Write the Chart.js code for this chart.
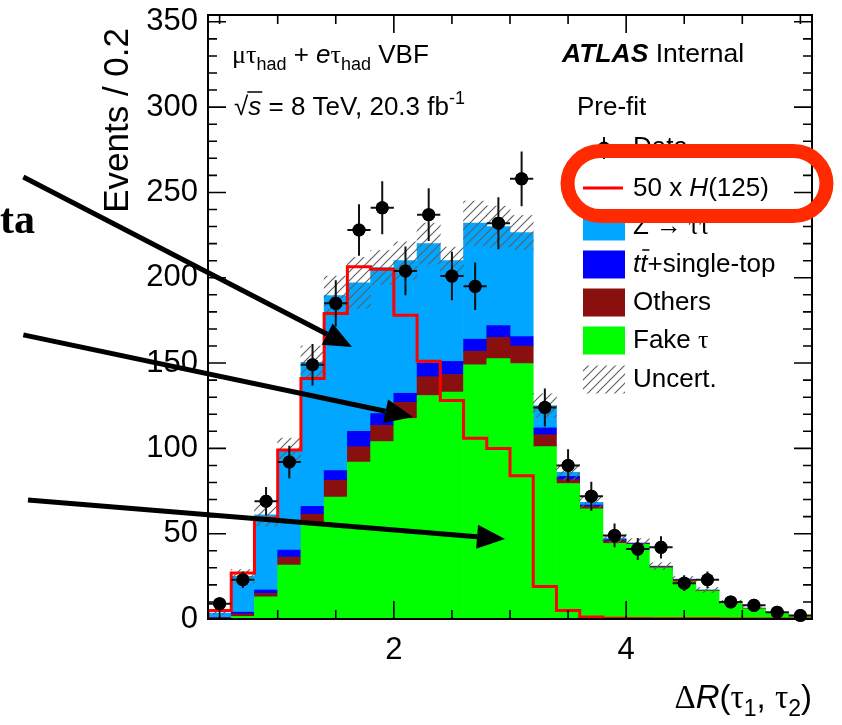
<!DOCTYPE html>
<html>
<head>
<meta charset="utf-8">
<title>Delta R(tau1, tau2) VBF</title>
<script src="https://cdn.jsdelivr.net/npm/chart.js@4.4.1/dist/chart.umd.min.js"></script>
<style>
  html, body { margin: 0; padding: 0; background: #fff; }
  canvas { display: block; }
</style>
</head>
<body>
<canvas id="drChart" width="842" height="725"></canvas>
<script>
const SANS = '"Liberation Sans", Arial, Helvetica, sans-serif';
const SERIF = '"Liberation Serif", "Times New Roman", serif';

// Delta R(tau1, tau2) binning: 26 bins of 0.2 from 0.4 to 5.6
const binCenters = [0.5, 0.7, 0.9, 1.1, 1.3, 1.5, 1.7, 1.9, 2.1, 2.3, 2.5, 2.7, 2.9,
                    3.1, 3.3, 3.5, 3.7, 3.9, 4.1, 4.3, 4.5, 4.7, 4.9, 5.1, 5.3, 5.5];
const binWidth = 0.2;
const xTickLabels = [2, 4];
const yTickLabels = [0, 50, 100, 150, 200, 250, 300, 350];

// observed events
const dataCounts = [9, 23, 69, 92, 149, 185, 228, 241, 204, 237, 201, 195, 232,
                    258, 124, 90, 72, 49, 41, 42, 21, 23, 10, 8, 4, 2];

// background stack, bottom to top
const fakeTau = [0.3, 1.5, 13, 31.6, 55, 71.5, 92, 104, 117.5, 131, 133, 149, 152.6,
                 149.7, 101, 79.4, 64.5, 44.3, 43.8, 30, 21.8, 16.4, 9.5, 6, 3.5, 1.7];
const others = [0.4, 1.5, 2, 4.7, 6.4, 9.8, 9, 9.5, 9.5, 11, 10.3, 8, 12.4,
                10.3, 7, 2.3, 1.5, 1.5, 0.4, 0.6, 1.2, 0.4, 0.3, 0.2, 0.1, 0.05];
const ttbar = [0.2, 1, 2, 4.1, 4.6, 5.7, 9, 6.9, 5.3, 8, 7.7, 7, 7,
               5.5, 4, 1.9, 0.8, 0.7, 0.2, 0.2, 0.2, 0.1, 0.1, 0.1, 0.05, 0.03];
const zTauTau = [2.6, 21, 44, 58.6, 84.5, 102.5, 87, 85.6, 77.7, 70, 59, 68, 58,
                 61, 13, 2.4, 1.6, 0.9, 0.2, 0.2, 0.2, 0.1, 0.1, 0.1, 0.05, 0.02];

// signal scaled by 50
const higgsX50 = [5, 27, 59, 99, 141, 179, 206.5, 205, 178, 151, 128, 106, 100,
                  84, 19, 5, 1.2, 0.5, 0.3, 0.2, 0.15, 0.1, 0.05, 0.05, 0.02, 0.02];

// systematic band half-width around the total background
const systUnc = [0.8, 4, 6.5, 7, 9.5, 11.5, 15, 10, 11, 12, 8, 13, 12,
                 10, 7, 4.5, 3.5, 3, 2.5, 2, 1.5, 1.5, 1, 0.8, 0.5, 0.3];

const colors = {
  z: '#00a6ff',
  tt: '#0000ff',
  others: '#8a1010',
  fake: '#00ff00',
  higgs: '#ff0000',
  box: '#ff2a00'
};

const canvas = document.getElementById('drChart');
const ctx0 = canvas.getContext('2d');

// diagonal hatch used for the uncertainty band
function makeHatch(size, color, lw) {
  const tile = document.createElement('canvas');
  tile.width = size; tile.height = size;
  const g = tile.getContext('2d');
  g.strokeStyle = color;
  g.lineWidth = lw;
  g.beginPath();
  g.moveTo(-1, size + 1); g.lineTo(size + 1, -1);
  g.moveTo(-1, 1); g.lineTo(1, -1);
  g.moveTo(size - 1, size + 1); g.lineTo(size + 1, size - 1);
  g.stroke();
  return ctx0.createPattern(tile, 'repeat');
}
const hatch = makeHatch(9, '#606060', 1.15);

const toPoints = vals => binCenters.map((x, i) => ({ x: x, y: vals[i] }));
const mcTotal = binCenters.map((_, i) => fakeTau[i] + others[i] + ttbar[i] + zTauTau[i]);

// histogram outline for the signal: left edges, closed to zero at both ends
const lowEdge = binCenters[0] - binWidth / 2;
const highEdge = binCenters[binCenters.length - 1] + binWidth / 2;
const higgsStep = [{ x: lowEdge, y: 0 }]
  .concat(binCenters.map((c, i) => ({ x: c - binWidth / 2, y: higgsX50[i] })))
  .concat([{ x: highEdge, y: higgsX50[higgsX50.length - 1] }, { x: highEdge, y: 0 }]);

const barCommon = { barPercentage: 1, categoryPercentage: 1, grouped: false, borderWidth: 0 };

function drawRich(ctx, x, y, runs, align) {
  let w = 0;
  runs.forEach(r => { ctx.font = r[1]; w += ctx.measureText(r[0]).width; });
  let cx = align === 'right' ? x - w : x;
  runs.forEach(r => {
    ctx.font = r[1];
    ctx.fillText(r[0], cx, y + (r[2] || 0));
    cx += ctx.measureText(r[0]).width;
  });
  return w;
}

function arrow(ctx, x0, y0, x1, y1) {
  const ang = Math.atan2(y1 - y0, x1 - x0);
  const len = 28, half = 12;
  const bx = x1 - len * Math.cos(ang), by = y1 - len * Math.sin(ang);
  ctx.beginPath();
  ctx.moveTo(x0, y0);
  ctx.lineTo(bx, by);
  ctx.stroke();
  ctx.beginPath();
  ctx.moveTo(x1, y1);
  ctx.lineTo(bx + half * Math.sin(ang), by - half * Math.cos(ang));
  ctx.lineTo(bx - half * Math.sin(ang), by + half * Math.cos(ang));
  ctx.closePath();
  ctx.fill();
}

function roundBox(ctx, x, y, w, h, r) {
  ctx.beginPath();
  ctx.moveTo(x + r, y);
  ctx.arcTo(x + w, y, x + w, y + h, r);
  ctx.arcTo(x + w, y + h, x, y + h, r);
  ctx.arcTo(x, y + h, x, y, r);
  ctx.arcTo(x, y, x + w, y, r);
  ctx.closePath();
}

// call-out arrows, tail and tip in axis units
const arrows = [
  { from: [-1.19, 259], to: [1.64, 159.4] },
  { from: [-1.19, 166.5], to: [2.165, 118.4] },
  { from: [-1.15, 69.7], to: [2.957, 46.9] }
];

const atlasDecor = {
  id: 'atlasDecor',
  afterDatasetsDraw(chart) {
    const { ctx, scales: { x, y } } = chart;
    const meta = chart.getDatasetMeta(0);
    ctx.save();
    ctx.strokeStyle = '#111';
    ctx.lineWidth = 2;
    dataCounts.forEach((n, i) => {
      const px = x.getPixelForValue(binCenters[i]);
      const py = y.getPixelForValue(n);
      const err = Math.sqrt(n); // Poisson error on the count
      ctx.beginPath();
      ctx.moveTo(px, y.getPixelForValue(n - err));
      ctx.lineTo(px, y.getPixelForValue(n + err));
      ctx.moveTo(x.getPixelForValue(binCenters[i] - binWidth / 2), py);
      ctx.lineTo(x.getPixelForValue(binCenters[i] + binWidth / 2), py);
      ctx.stroke();
    });
    // redraw markers over the error bars
    meta.data.forEach(pt => pt.draw(ctx, chart.chartArea));
    ctx.restore();
  },
  afterDraw(chart) {
    const { ctx, chartArea: a, scales: { x, y } } = chart;
    ctx.save();

    // frame with inward ticks on all four sides
    ctx.strokeStyle = '#000';
    ctx.lineWidth = 2;
    ctx.strokeRect(a.left, a.top, a.right - a.left, a.bottom - a.top);
    ctx.lineWidth = 1.6;
    ctx.beginPath();
    for (let v = 0; v <= 350; v += 10) {
      const py = y.getPixelForValue(v);
      const len = v % 50 === 0 ? 18 : 9;
      ctx.moveTo(a.left, py); ctx.lineTo(a.left + len, py);
      ctx.moveTo(a.right, py); ctx.lineTo(a.right - len, py);
    }
    for (let v = 0.5; v <= 5.5; v += 0.5) {
      const px = x.getPixelForValue(v);
      const len = xTickLabels.includes(v) ? 18 : 9;
      ctx.moveTo(px, a.bottom); ctx.lineTo(px, a.bottom - len);
      ctx.moveTo(px, a.top); ctx.lineTo(px, a.top + len);
    }
    ctx.stroke();

    ctx.fillStyle = '#000';
    ctx.textBaseline = 'alphabetic';
    ctx.textAlign = 'left';

    // axis titles
    ctx.save();
    ctx.translate(128, 28);
    ctx.rotate(-Math.PI / 2);
    ctx.font = `35px ${SANS}`;
    ctx.textAlign = 'right';
    ctx.fillText('Events / 0.2', 0, 0);
    ctx.restore();

    drawRich(ctx, a.right, 708, [
      ['\u0394', `33px ${SERIF}`],
      ['R', `italic 33px ${SANS}`],
      ['(', `33px ${SANS}`],
      ['\u03c4', `33px ${SERIF}`],
      ['1', `23px ${SANS}`, 8],
      [', ', `33px ${SANS}`],
      ['\u03c4', `33px ${SERIF}`],
      ['2', `23px ${SANS}`, 8],
      [')', `33px ${SANS}`]
    ], 'right');

    const F = `26px ${SANS}`, FI = `italic 26px ${SANS}`, FG = `26px ${SERIF}`, FS = `18px ${SANS}`;

    // channel and dataset labels
    drawRich(ctx, 232, 63, [
      ['\u03bc\u03c4', FG], ['had', FS, 7], [' + ', F], ['e', FI],
      ['\u03c4', FG], ['had', FS, 7], [' VBF', F]
    ]);
    ctx.font = F;
    const rootW = ctx.measureText('\u221a').width;
    ctx.font = FI;
    const sW = ctx.measureText('s').width;
    drawRich(ctx, 234, 115, [
      ['\u221a', F], ['s', FI], [' = 8 TeV, 20.3 fb', F], ['-1', FS, -11]
    ]);
    ctx.lineWidth = 1.5;
    ctx.beginPath();
    ctx.moveTo(234 + rootW - 1, 92);
    ctx.lineTo(234 + rootW + sW + 1, 92);
    ctx.stroke();

    drawRich(ctx, 562, 62, [['ATLAS', `italic bold 26.5px ${SANS}`], [' Internal', `26.5px ${SANS}`]]);
    drawRich(ctx, 577, 115, [['Pre-fit', F]]);

    // legend
    const mx = 583, mw = 42, tx = 633;
    // Data
    ctx.strokeStyle = '#111';
    ctx.lineWidth = 2;
    ctx.beginPath();
    ctx.moveTo(mx + mw / 2, 137); ctx.lineTo(mx + mw / 2, 159);
    ctx.stroke();
    ctx.beginPath();
    ctx.arc(mx + mw / 2, 148, 6.5, 0, Math.PI * 2);
    ctx.fill();
    drawRich(ctx, tx, 155, [['Data', F]]);
    // signal
    ctx.strokeStyle = colors.higgs;
    ctx.lineWidth = 3;
    ctx.beginPath();
    ctx.moveTo(mx, 188); ctx.lineTo(mx + mw - 2, 188);
    ctx.stroke();
    drawRich(ctx, tx, 196, [['50 x ', F], ['H', FI], ['(125)', F]]);
    // filled entries
    const boxes = [
      { base: 234, fill: colors.z, runs: [['Z ', F], ['\u2192', F], [' \u03c4\u03c4', FG]] },
      { base: 272, fill: colors.tt, runs: [['t', FI], ['t', FI], ['+single-top', F]] },
      { base: 310, fill: colors.others, runs: [['Others', F]] },
      { base: 348, fill: colors.fake, runs: [['Fake ', F], ['\u03c4', FG]] },
      { base: 387, fill: hatch, runs: [['Uncert.', F]] }
    ];
    boxes.forEach(b => {
      ctx.fillStyle = b.fill;
      ctx.fillRect(mx, b.base - 21.5, mw, 28);
      ctx.fillStyle = '#000';
      drawRich(ctx, tx, b.base, b.runs);
    });
    // bar over the second t of t-tbar
    ctx.font = FI;
    const tW = ctx.measureText('t').width;
    ctx.lineWidth = 1.5;
    ctx.strokeStyle = '#000';
    ctx.beginPath();
    ctx.moveTo(tx + tW + 2, 250); ctx.lineTo(tx + 2 * tW + 2, 250);
    ctx.stroke();

    // highlight around the signal entry
    ctx.strokeStyle = colors.box;
    ctx.lineWidth = 14;
    roundBox(ctx, 567.5, 151, 259, 65, 33);
    ctx.stroke();

    // call-outs
    ctx.fillStyle = '#000';
    ctx.strokeStyle = '#000';
    ctx.lineWidth = 5;
    arrows.forEach(ar => {
      arrow(ctx,
        x.getPixelForValue(ar.from[0]), y.getPixelForValue(ar.from[1]),
        x.getPixelForValue(ar.to[0]), y.getPixelForValue(ar.to[1]));
    });
    ctx.font = `bold 42px ${SERIF}`;
    ctx.fillText('ta', 0, 233);

    ctx.restore();
  }
};

new Chart(ctx0, {
  type: 'bar',
  data: {
    datasets: [
      {
        type: 'scatter', label: 'Data', data: toPoints(dataCounts),
        pointRadius: 6.5, pointHoverRadius: 6.5, pointBackgroundColor: '#000',
        pointBorderWidth: 0, order: 0
      },
      {
        type: 'line', label: '50 x H(125)', data: higgsStep, stepped: true,
        borderColor: colors.higgs, borderWidth: 3, pointRadius: 0, fill: false, order: 1
      },
      Object.assign({
        label: 'Uncert.', stack: 'unc', order: 2, backgroundColor: hatch,
        data: binCenters.map((c, i) => ({ x: c, y: [mcTotal[i] - systUnc[i], mcTotal[i] + systUnc[i]] }))
      }, barCommon),
      Object.assign({ label: 'Fake \u03c4', data: toPoints(fakeTau), backgroundColor: colors.fake, order: 3 }, barCommon),
      Object.assign({ label: 'Others', data: toPoints(others), backgroundColor: colors.others, order: 3 }, barCommon),
      Object.assign({ label: 'tt+single-top', data: toPoints(ttbar), backgroundColor: colors.tt, order: 3 }, barCommon),
      Object.assign({ label: 'Z\u2192\u03c4\u03c4', data: toPoints(zTauTau), backgroundColor: colors.z, order: 3 }, barCommon)
    ]
  },
  options: {
    responsive: false,
    animation: false,
    layout: { padding: { left: 0, right: 30, top: 15, bottom: 0 } },
    plugins: { legend: { display: false }, tooltip: { enabled: false } },
    scales: {
      x: {
        type: 'linear', min: 0.4, max: 5.6, offset: false,
        grid: { display: false, drawTicks: false },
        border: { display: false },
        afterBuildTicks: s => { s.ticks = xTickLabels.map(v => ({ value: v })); },
        afterFit: s => { s.height = 106; s.paddingLeft = 0; s.paddingRight = 0; },
        ticks: { color: '#000', padding: 18, maxRotation: 0, autoSkip: false,
                 font: { family: SANS, size: 31, lineHeight: 0.9 } }
      },
      y: {
        stacked: true, min: 0, max: 354,
        grid: { display: false, drawTicks: false },
        border: { display: false },
        afterBuildTicks: s => { s.ticks = yTickLabels.map(v => ({ value: v })); },
        afterFit: s => { s.width = 208; s.paddingTop = 0; s.paddingBottom = 0; },
        ticks: { color: '#000', padding: 10,
                 font: { family: SANS, size: 31, lineHeight: 0.9 } }
      }
    }
  },
  plugins: [atlasDecor]
});
</script>
</body>
</html>
